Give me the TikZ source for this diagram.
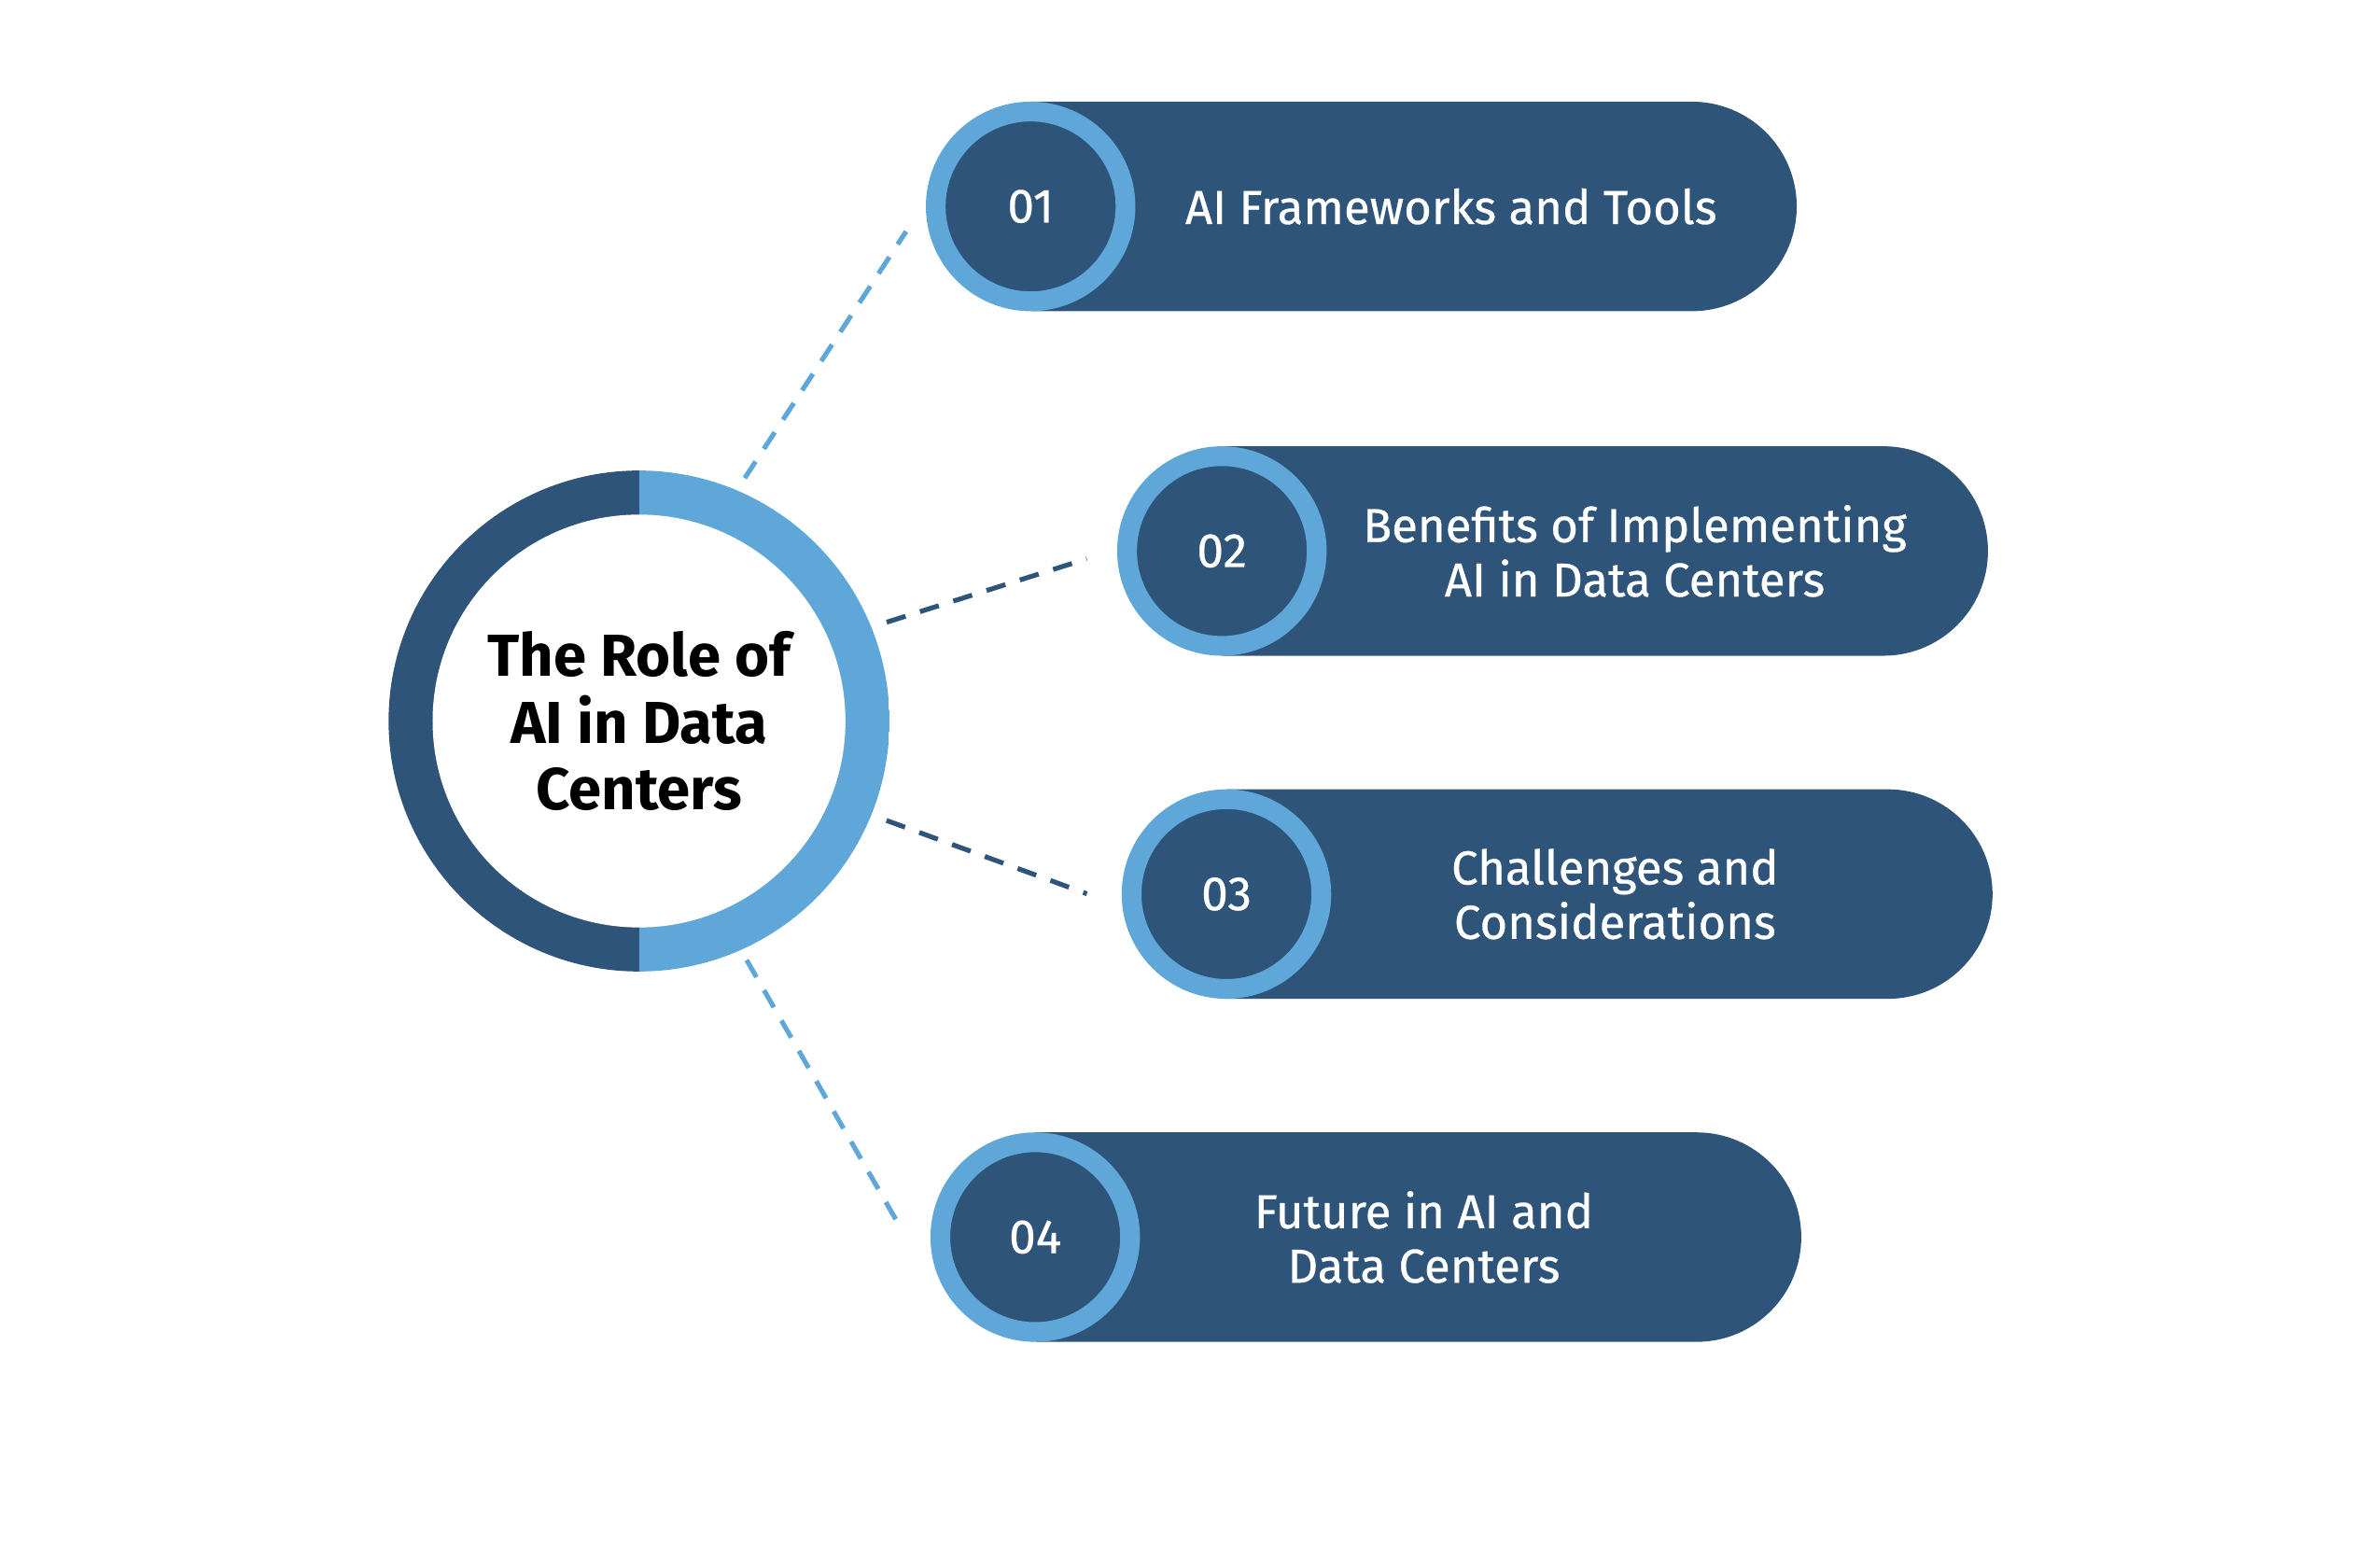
\documentclass[tikz,border=0pt]{standalone}
\usepackage{fontspec}
\setmainfont{Fira Sans}
\newfontfamily\medium[FakeBold=0.6]{Fira Sans}
\usepackage{tikz}
\usetikzlibrary{positioning,calc,shapes.misc}
\definecolor{navy}{HTML}{2F5479}
\definecolor{sky}{HTML}{5EA7D8}
\tikzset{
  hub/.style={circle,inner sep=0pt,minimum size=3.3cm,align=center,
    font=\fontsize{11.1}{12.5}\selectfont\bfseries,
    path picture={
      \fill[navy] (path picture bounding box.south west) rectangle (path picture bounding box.north);
      \fill[sky] (path picture bounding box.south) rectangle (path picture bounding box.north east);
      \fill[white] (path picture bounding box.center) circle[radius=1.36cm];}},
  num/.style={circle,draw=sky,fill=navy,line width=0.13cm,minimum size=1.25cm,inner sep=0pt,
    text=white,font=\medium\fontsize{9}{11}\selectfont},
  bar/.style={rounded rectangle,rounded rectangle left arc=none,fill=navy,
    minimum height=1.38cm,minimum width=5.04cm,inner sep=0pt,anchor=west},
  lab/.style={text=white,align=center,font=\medium\fontsize{8.9}{10.2}\selectfont},
  link/.style={line width=0.9pt,dash pattern=on 0.13cm off 0.1cm},
}
\begin{document}
\begin{tikzpicture}
\useasboundingbox (0,0) rectangle (15.68,10.24);
\node[hub] (hub) at (4.21,5.49) {The Role of\\AI in Data\\Centers};
% items
\coordinate (p1) at (6.79,8.88);
\node[bar] (b1) at (p1) {};
\node[num] (n1) at (p1) {01};
\node[lab] (t1) at ($(p1)+(2.77,0)$) {AI Frameworks and Tools};
\coordinate (p2) at (8.05,6.61);
\node[bar] (b2) at (p2) {};
\node[num] (n2) at (p2) {02};
\node[lab] (t2) at ($(p2)+(2.72,0)$) {Benefits of Implementing\\AI in Data Centers};
\coordinate (p3) at (8.08,4.35);
\node[bar] (b3) at (p3) {};
\node[num] (n3) at (p3) {03};
\node[lab] (t3) at ($(p3)+(2.56,0)$) {Challenges and\\Considerations};
\coordinate (p4) at (6.82,2.09);
\node[bar] (b4) at (p4) {};
\node[num] (n4) at (p4) {04};
\node[lab] (t4) at ($(p4)+(2.56,0)$) {Future in AI and\\Data Centers};
% dashed links
\coordinate (e4) at (5.94,2.14);
\draw[link,sky,shorten <=0.09cm,shorten >=0.24cm] (hub.67) -- (n1.177);
\draw[link,navy,shorten <=0.1cm,shorten >=0.21cm] (hub.22) -- (n2.179);
\draw[link,navy,shorten <=0.1cm,shorten >=0.25cm] (hub.-22) -- (n3.187);
\draw[link,sky,shorten <=0.07cm] (hub.-66.5) -- (e4);
\end{tikzpicture}
\end{document}
